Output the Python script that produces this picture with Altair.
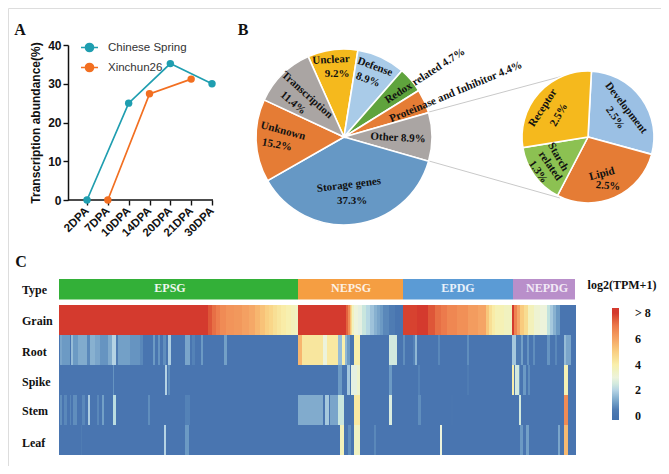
import altair as alt
import math
import pandas as pd

# ---------- Panel A ----------
STAGES = ["2DPA", "7DPA", "10DPA", "14DPA", "20DPA", "21DPA", "30DPA"]
CS_STAGES = ["2DPA", "10DPA", "20DPA", "30DPA"]
CS_VALUES = [0, 25, 35.2, 30]
XC_STAGES = ["7DPA", "14DPA", "21DPA"]
XC_VALUES = [0, 27.4, 31.2]

# ---------- Panel B ----------
PIE_NAMES = ["Unclear", "Defense", "Redox", "Proteinase", "Other", "Storage", "Unknown", "Transcription"]
PIE_VALUES = [9.2, 8.9, 4.7, 4.4, 8.9, 37.3, 15.2, 11.4]
PIE_COLORS = ["#f5b91d", "#a9cbe8", "#5fa33d", "#e57c35", "#aaa5a3", "#6698c5", "#e57c35", "#aaa5a3"]
SUB_NAMES = ["Development", "Lipid", "Starch", "Receptor"]
SUB_VALUES = [2.5, 2.5, 1.3, 2.5]
SUB_COLORS = ["#9bc0e4", "#e57c35", "#8cc152", "#f5b91d"]

# ---------- Panel C (gene rank start, gene rank end, log2(TPM+1)) ----------
ROWS = ["Grain", "Root", "Spike", "Stem", "Leaf"]
TYPE_NAMES = ["EPSG", "NEPSG", "EPDG", "NEPDG"]
TYPE_START = [0, 239, 344, 454]
TYPE_END = [239, 344, 454, 516]
TYPE_COLORS = ["#33b038", "#f59e42", "#5b9bd5", "#b98fca"]
GENES = 517
BASE = 0.3

GRAIN = [(0,149,8),(149,153,7.6),(153,157,7.2),(157,161,6.9),(161,167,6.6),(167,175,6.4),(175,183,6.3),
         (183,190,6.1),(190,196,5.9),(196,201,5.6),(201,206,5.3),(206,210,5),(210,214,4.8),(214,218,4.5),
         (218,222,4.3),(222,227,4.1),(227,232,3.9),(232,236,3.7),(236,239,3.5),
         (239,287,8),(287,289,7.4),(289,291,6.6),(291,292,5.4),(292,293,4.6),(293,295,3.6),(295,299,3),
         (299,303,2.7),(303,307,2.4),(307,311,2.1),(311,315,1.7),(315,318,1.4),(318,321,1.2),(321,324,1),
         (324,330,.7),(330,336,.5),(336,344,.3),
         (344,358,7.9),(358,369,8),(369,376,7.6),(376,382,7.2),(382,388,7),(388,398,6.7),(398,409,6.5),
         (409,419,6.2),(419,427,6),(427,430,5.2),(430,433,4.5),(433,436,4.1),(436,445,3.8),(445,453,3.6),
         (453,455,8),(455,458,6.8),(458,461,6),(461,465,5.1),(465,469,4.6),(469,475,3.7),(475,481,3.2),
         (481,488,3),(488,491,2.3),(491,494,1.8),(494,497,1.4),(497,501,1)]
ROOT = [(1,3,1.2),(3,11,1),(12,14,1.6),(14,19,1),(19,28,1.3),(28,31,.7),(31,36,1.4),(36,41,1.2),(41,49,.9),
        (49,53,1.3),(53,57,2),(57,59,.5),(59,71,1.1),(71,81,.9),(81,84,.7),(94,96,1),(99,101,.9),(104,107,.8),
        (109,112,1.9),(126,131,1.2),(133,136,.6),(142,144,1),(165,168,1.1),
        (239,243,5.6),(243,264,4.3),(264,268,3),(268,279,4.2),(279,283,1.6),(283,286,4),(286,288,1.5),
        (288,291,1),(295,301,4),(330,338,2.5),(344,346,.8),(354,356,.6),(356,358,1.5),(379,381,.7),
        (408,410,.8),(453,457,1.8),(457,462,.5),(462,464,1.1),(468,470,.9),(474,476,.8),(488,491,.9),
        (496,498,.7),(505,507,1.6),(507,512,1.2)]
SPIKE = [(54,55,.9),(106,108,2),(109,111,.8),(279,283,1),(288,291,1.8),(292,298,2.7),(298,301,3.3),(330,333,1),
         (359,361,.6),(408,410,.5),(453,455,4),(455,456,.5),(456,460,2.5),(460,461,1),(464,467,1),(469,471,.8),
         (505,509,3.8)]
STEM = [(1,3,.8),(5,8,.7),(11,12,.7),(14,18,.8),(23,26,.7),(29,31,1.9),(38,40,.7),(43,45,1.1),(54,57,2.2),
        (89,91,.8),(126,131,.6),(239,264,1.3),(266,270,1.8),(271,279,1.2),(279,285,2.4),(295,301,4.2),
        (330,333,2.6),(359,362,.8),(392,394,.4),(460,462,2.5),(505,509,6.6)]
LEAF = [(22,23,.5),(105,107,2),(126,130,1),(281,285,3.7),(289,292,.8),(295,301,3.5),(315,317,.7),(381,383,3),
        (461,464,1),(467,470,1.1),(499,501,1.2),(505,509,5.5)]

def segments(name, spans):
    out = []
    pos = 0
    for a, b, v in sorted(spans):
        a = max(a, pos)
        if a >= b:
            continue
        if a > pos:
            out.append(dict(row=name, start=pos, end=a, v=BASE))
        out.append(dict(row=name, start=a, end=b, v=v))
        pos = b
    if pos < GENES:
        out.append(dict(row=name, start=pos, end=GENES, v=BASE))
    return out

heat = pd.DataFrame(sum([segments(n, s) for n, s in zip(ROWS, [GRAIN, ROOT, SPIKE, STEM, LEAF])], []))

BLACK = "#111111"
SERIF = "Liberation Serif"
SANS = "Liberation Sans"
OFF = 8  # page margin

def ann(text, px, py, angle=0, size=11, color=BLACK, align="center"):
    return alt.Chart(pd.DataFrame({"t": [text]})).mark_text(
        font=SERIF, fontWeight="bold", fontSize=size, color=color, angle=angle % 360,
        align=align, baseline="middle"
    ).encode(x=alt.value(px - OFF), y=alt.value(py - OFF), text="t:N")

def link(x1, y1, x2, y2):
    return alt.Chart(pd.DataFrame({"a": [0]})).mark_rule(color="#c9c9c9", strokeWidth=1).encode(
        x=alt.value(x1 - OFF), y=alt.value(y1 - OFF), x2=alt.value(x2 - OFF), y2=alt.value(y2 - OFF))

def pie(names, values, colors, cx, cy, r, start_deg):
    df = pd.DataFrame({"name": names, "v": values, "i": range(len(names))})
    s = math.radians(start_deg)
    return alt.Chart(df).mark_arc(outerRadius=r, stroke="white", strokeWidth=1.6).encode(
        theta=alt.Theta("v:Q", stack=True, scale=alt.Scale(domain=[0, sum(values)], range=[s, s + 2 * math.pi])),
        order=alt.Order("i:Q"),
        color=alt.Color("name:N", scale=alt.Scale(domain=names, range=colors), legend=None),
        x=alt.value(cx - OFF), y=alt.value(cy - OFF))

# Panel A
LINE_SYMBOL = "M-1,0L1,0M0.47,0A0.47,0.47 0 1 1 -0.47,0A0.47,0.47 0 1 1 0.47,0Z"
line_df = pd.DataFrame(
    [dict(s=a, v=b, series="Chinese Spring") for a, b in zip(CS_STAGES, CS_VALUES)] +
    [dict(s=a, v=b, series="Xinchun26") for a, b in zip(XC_STAGES, XC_VALUES)])
lines = alt.Chart(line_df).mark_line(
    strokeWidth=1.7, point=alt.OverlayMarkDef(size=55, filled=True)
).encode(
    x=alt.X("s:N", sort=STAGES, scale=alt.Scale(domain=STAGES, range=[87 - OFF, 212 - OFF], padding=0),
            axis=alt.Axis(title=None, orient="bottom", offset=-(458 - 192), domain=False, tickColor=BLACK,
                          tickWidth=1.4, tickSize=5, labelAngle=315, labelAlign="right", labelBaseline="middle",
                          labelFont=SANS, labelFontWeight="bold", labelFontSize=11.5, labelColor=BLACK, labelPadding=4)),
    y=alt.Y("v:Q", scale=alt.Scale(domain=[0, 40], range=[192, 37]),
            axis=alt.Axis(title="Transcription abundance(%)", orient="left", offset=-(68 - OFF), values=[0, 10, 20, 30, 40],
                          grid=False, domainColor=BLACK, domainWidth=1.5, tickColor=BLACK, tickWidth=1.4, tickSize=5,
                          labelFont=SANS, labelFontWeight="bold", labelFontSize=12, labelColor=BLACK,
                          titleFont=SANS, titleFontWeight="bold", titleFontSize=12, titleColor=BLACK, titlePadding=5)),
    color=alt.Color("series:N", scale=alt.Scale(domain=["Chinese Spring", "Xinchun26"], range=["#1f9eb0", "#f26f21"]),
                    legend=alt.Legend(title=None, orient="none", legendX=80 - OFF, legendY=38 - OFF, symbolSize=289,
                                      symbolType=LINE_SYMBOL, symbolStrokeWidth=1.7, labelFont=SANS, labelFontSize=11.5,
                                      labelColor="#333333", rowPadding=3, labelOffset=9)),
)
axis_line = alt.Chart(pd.DataFrame({"a": [0]})).mark_rule(color=BLACK, strokeWidth=1.5).encode(
    x=alt.value(68 - OFF), x2=alt.value(213 - OFF), y=alt.value(192))

# Panel C
cols = alt.Chart(pd.DataFrame({"n": TYPE_NAMES, "a": TYPE_START, "b": TYPE_END})).mark_rect().encode(
    x=alt.X("a:Q", scale=alt.Scale(domain=[0, GENES], range=[59 - OFF, 576 - OFF]), axis=None),
    x2="b:Q",
    y=alt.value(279 - OFF), y2=alt.value(299.5 - OFF),
    color=alt.Color("n:N", scale=alt.Scale(domain=TYPE_NAMES, range=TYPE_COLORS), legend=None))
hm = alt.Chart(heat).mark_rect().encode(
    x=alt.X("start:Q", scale=alt.Scale(domain=[0, GENES], range=[59 - OFF, 576 - OFF]), axis=None),
    x2="end:Q",
    y=alt.Y("row:N", sort=ROWS, scale=alt.Scale(domain=ROWS, range=[305 - OFF, 455 - OFF]), axis=None),
    color=alt.Color("v:Q",
        scale=alt.Scale(domain=[-0.3, 0.4, 1, 2, 2.8, 4, 5, 6, 7, 8, 8.4],
                        range=["#4472ad", "#4a76b0", "#6c9ac4", "#b5d3e4", "#eef3e4", "#f9efab", "#f9cf82", "#f5a465", "#ec7a4c", "#d43a2e", "#d43a2e"],
                        clamp=True),
        legend=alt.Legend(title=None, orient="none", legendX=612 - OFF, legendY=308 - OFF, gradientLength=112,
                          gradientThickness=7, values=[0, 2, 4, 6, 8], labelOverlap=False,
                          labelExpr="datum.value == 8 ? '> 8' : datum.label", labelFont=SERIF, labelFontWeight="bold",
                          labelFontSize=12, labelColor=BLACK, labelAlign="right", labelOffset=16, tickCount=5)))

layers = [
    ann("A", 20, 30, size=16), ann("B", 243, 30, size=16), ann("C", 21, 262, size=16),
    axis_line, lines,
    link(429, 112, 563, 76), link(429, 161, 560, 198),
    pie(PIE_NAMES, PIE_VALUES, PIE_COLORS, 344, 137, 88, -24),
    pie(SUB_NAMES, SUB_VALUES, SUB_COLORS, 588, 137, 66, 3),
    ann("Unclear", 331, 60, -3), ann("9.2%", 337, 74),
    ann("Defense", 375, 67, 20), ann("8.9%", 368, 80, 20),
    ann("Redox related  4.7%", 425, 76, -33),
    ann("Proteinase and Inhibitor 4.4%", 456, 92, -22.7),
    ann("Other  8.9%", 398, 138, 3),
    ann("Storage genes", 349, 185, -7), ann("37.3%", 352, 201),
    ann("Unknown", 283, 131, 15), ann("15.2%", 277, 145, 10),
    ann("Transcription", 307, 95, 42), ann("11.4%", 293, 103, 40),
    ann("Development", 626, 108, 52), ann("2.5%", 615, 118, 55),
    ann("Receptor", 543, 108, -57), ann("2.5%", 559, 115, -60),
    ann("Lipid", 602, 174, -15), ann("2.5%", 608, 186, 5),
    ann("Starch", 558, 157, 60), ann("related", 550, 166, 55), ann("1.3%", 538, 172, 55),
    cols, hm,
    ann("EPSG", 170, 288, size=12, color="#eef7ee"), ann("NEPSG", 351, 288, size=12, color="#fdf1e3"),
    ann("EPDG", 458, 288, size=12, color="#e8f1fa"), ann("NEPDG", 547, 288, size=12, color="#f2e9f6"),
    ann("Type", 22, 290, size=12, align="left"), ann("Grain", 22, 321, size=12, align="left"),
    ann("Root", 22, 352, size=12, align="left"), ann("Spike", 22, 382, size=12, align="left"),
    ann("Stem", 22, 411, size=12, align="left"), ann("Leaf", 22, 443, size=12, align="left"),
    ann("log2(TPM+1)", 622, 285, size=12),
]

chart = alt.layer(*layers).resolve_scale(
    x="independent", y="independent", color="independent", theta="independent"
).properties(width=653, height=458, padding=0,
             autosize=alt.AutoSizeParams(type="none")).configure_view(stroke=None).configure(background="white")

chart.save("out.html", embed_options={"renderer": "svg", "actions": False})
